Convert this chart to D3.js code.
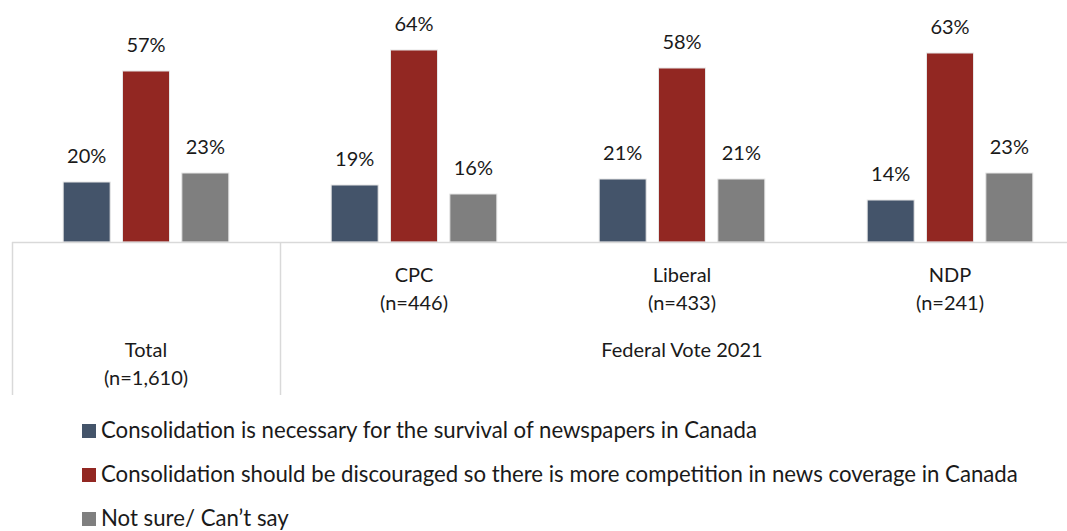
<!DOCTYPE html>
<html>
<head>
<meta charset="utf-8">
<script src="https://cdn.jsdelivr.net/npm/d3@7"></script>
<style>
  body { margin: 0; background: #fff; }
  text { font-family: Lato, "Open Sans", sans-serif; fill: #1a1a1a; }
</style>
</head>
<body>
<div id="chart"></div>
<script>
(function() {

  var width = 1067,
      height = 531,
      baseY = 242;

  // data
  var groups = ["Total", "CPC", "Liberal", "NDP"];
  var groupN = ["(n=1,610)", "(n=446)", "(n=433)", "(n=241)"];
  var series = [
    "Consolidation is necessary for the survival of newspapers in Canada",
    "Consolidation should be discouraged so there is more competition in news coverage in Canada",
    "Not sure/ Can\u2019t say"
  ];
  var necessary   = [20, 19, 21, 14];
  var discouraged = [57, 64, 58, 63];
  var notSure     = [23, 16, 21, 23];
  var colors = ["#44546a", "#922722", "#7f7f7f"];

  var values = [necessary, discouraged, notSure];

  var svg = d3.select("#chart").append("svg")
      .attr("width", width)
      .attr("height", height);

  var x0 = d3.scaleBand()
      .domain(groups)
      .range([12, 1084]);

  var x1 = d3.scaleBand()
      .domain(d3.range(series.length))
      .range([x0.bandwidth() / 2 - 89, x0.bandwidth() / 2 + 89])
      .paddingInner(0.208)
      .paddingOuter(0.104);

  var y = d3.scaleLinear()
      .domain([0, 70])
      .range([baseY, baseY - 210]);

  var rows = groups.map(function(g, i) {
    return { group: g, n: groupN[i], vals: values.map(function(v) { return v[i]; }) };
  });

  var g = svg.selectAll("g.grp")
      .data(rows)
    .enter().append("g")
      .attr("class", "grp")
      .attr("transform", function(d) { return "translate(" + x0(d.group) + ",0)"; });

  g.selectAll("rect")
      .data(function(d) { return d.vals; })
    .enter().append("rect")
      .attr("x", function(d, i) { return x1(i); })
      .attr("y", function(d) { return y(d); })
      .attr("width", x1.bandwidth())
      .attr("height", function(d) { return y(0) - y(d); })
      .style("fill", function(d, i) { return colors[i]; })
      .style("stroke", "#e6e6e6")
      .style("stroke-width", 1);

  g.selectAll("text.val")
      .data(function(d) { return d.vals; })
    .enter().append("text")
      .attr("class", "val")
      .attr("x", function(d, i) { return x1(i) + x1.bandwidth() / 2; })
      .attr("y", function(d) { return y(d) - 19; })
      .attr("text-anchor", "middle")
      .style("font-size", "20px")
      .text(function(d) { return d + "%"; });

  // axis line and group dividers
  svg.append("line")
      .attr("x1", 12).attr("x2", width)
      .attr("y1", baseY + 0.5).attr("y2", baseY + 0.5)
      .style("stroke", "#d9d9d9").style("stroke-width", 1.5);

  [x0("Total"), x0("CPC")].forEach(function(xp) {
    svg.append("line")
        .attr("x1", xp + 0.5).attr("x2", xp + 0.5)
        .attr("y1", baseY).attr("y2", 395)
        .style("stroke", "#d9d9d9").style("stroke-width", 1.5);
  });

  // category labels
  g.each(function(d, i) {
    var cx = x0.bandwidth() / 2;
    var top = i === 0 ? 357 : 282;
    var sel = d3.select(this);
    sel.append("text")
        .attr("x", cx).attr("y", top)
        .attr("text-anchor", "middle")
        .style("font-size", "20px")
        .text(d.group);
    sel.append("text")
        .attr("x", cx).attr("y", top + 28)
        .attr("text-anchor", "middle")
        .style("font-size", "20px")
        .text(d.n);
  });

  svg.append("text")
      .attr("x", (x0("CPC") + x0("NDP") + x0.bandwidth()) / 2)
      .attr("y", 357)
      .attr("text-anchor", "middle")
      .style("font-size", "20px")
      .text("Federal Vote 2021");

  // legend
  var leg = svg.selectAll("g.leg")
      .data(series)
    .enter().append("g")
      .attr("class", "leg")
      .attr("transform", function(d, i) { return "translate(82," + (424 + i * 44) + ")"; });

  leg.append("rect")
      .attr("width", 14).attr("height", 14)
      .style("fill", function(d, i) { return colors[i]; });

  leg.append("text")
      .attr("x", 19).attr("y", 14)
      .style("font-size", "22.2px")
      .text(function(d) { return d; });

})();
</script>
</body>
</html>
